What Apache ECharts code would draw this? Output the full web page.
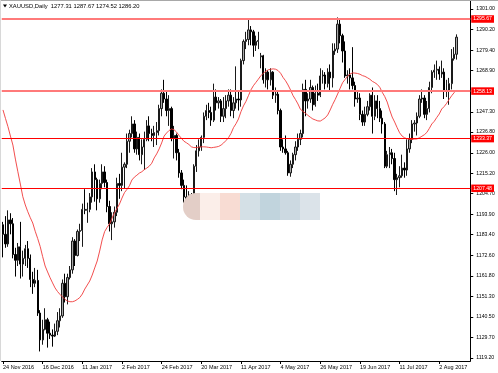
<!DOCTYPE html>
<html><head><meta charset="utf-8">
<script src="https://cdn.jsdelivr.net/npm/echarts@6/dist/echarts.min.js"></script>
<style>html,body{margin:0;padding:0;background:#fff}#c{width:498px;height:373px}</style>
</head><body><div id="c"></div><script>
const dates = ['24 Nov 2016','25 Nov 2016','28 Nov 2016','29 Nov 2016','30 Nov 2016','1 Dec 2016','2 Dec 2016','5 Dec 2016','6 Dec 2016','7 Dec 2016','8 Dec 2016','9 Dec 2016','12 Dec 2016','13 Dec 2016','14 Dec 2016','15 Dec 2016','16 Dec 2016','19 Dec 2016','20 Dec 2016','21 Dec 2016','22 Dec 2016','23 Dec 2016','27 Dec 2016','28 Dec 2016','29 Dec 2016','30 Dec 2016','3 Jan 2017','4 Jan 2017','5 Jan 2017','6 Jan 2017','9 Jan 2017','10 Jan 2017','11 Jan 2017','12 Jan 2017','13 Jan 2017','16 Jan 2017','17 Jan 2017','18 Jan 2017','19 Jan 2017','20 Jan 2017','23 Jan 2017','24 Jan 2017','25 Jan 2017','26 Jan 2017','27 Jan 2017','30 Jan 2017','31 Jan 2017','1 Feb 2017','2 Feb 2017','3 Feb 2017','6 Feb 2017','7 Feb 2017','8 Feb 2017','9 Feb 2017','10 Feb 2017','13 Feb 2017','14 Feb 2017','15 Feb 2017','16 Feb 2017','17 Feb 2017','20 Feb 2017','21 Feb 2017','22 Feb 2017','23 Feb 2017','24 Feb 2017','27 Feb 2017','28 Feb 2017','1 Mar 2017','2 Mar 2017','3 Mar 2017','6 Mar 2017','7 Mar 2017','8 Mar 2017','9 Mar 2017','10 Mar 2017','13 Mar 2017','14 Mar 2017','15 Mar 2017','16 Mar 2017','17 Mar 2017','20 Mar 2017','21 Mar 2017','22 Mar 2017','23 Mar 2017','24 Mar 2017','27 Mar 2017','28 Mar 2017','29 Mar 2017','30 Mar 2017','31 Mar 2017','3 Apr 2017','4 Apr 2017','5 Apr 2017','6 Apr 2017','7 Apr 2017','10 Apr 2017','11 Apr 2017','12 Apr 2017','13 Apr 2017','17 Apr 2017','18 Apr 2017','19 Apr 2017','20 Apr 2017','21 Apr 2017','24 Apr 2017','25 Apr 2017','26 Apr 2017','27 Apr 2017','28 Apr 2017','1 May 2017','2 May 2017','3 May 2017','4 May 2017','5 May 2017','8 May 2017','9 May 2017','10 May 2017','11 May 2017','12 May 2017','15 May 2017','16 May 2017','17 May 2017','18 May 2017','19 May 2017','22 May 2017','23 May 2017','24 May 2017','25 May 2017','26 May 2017','29 May 2017','30 May 2017','31 May 2017','1 Jun 2017','2 Jun 2017','5 Jun 2017','6 Jun 2017','7 Jun 2017','8 Jun 2017','9 Jun 2017','12 Jun 2017','13 Jun 2017','14 Jun 2017','15 Jun 2017','16 Jun 2017','19 Jun 2017','20 Jun 2017','21 Jun 2017','22 Jun 2017','23 Jun 2017','26 Jun 2017','27 Jun 2017','28 Jun 2017','29 Jun 2017','30 Jun 2017','3 Jul 2017','4 Jul 2017','5 Jul 2017','6 Jul 2017','7 Jul 2017','10 Jul 2017','11 Jul 2017','12 Jul 2017','13 Jul 2017','14 Jul 2017','17 Jul 2017','18 Jul 2017','19 Jul 2017','20 Jul 2017','21 Jul 2017','24 Jul 2017','25 Jul 2017','26 Jul 2017','27 Jul 2017','28 Jul 2017','31 Jul 2017','1 Aug 2017','2 Aug 2017','3 Aug 2017','4 Aug 2017','7 Aug 2017','8 Aug 2017','9 Aug 2017','10 Aug 2017','11 Aug 2017','14 Aug 2017','15 Aug 2017','16 Aug 2017','17 Aug 2017','18 Aug 2017'];

const opens = [1188.5,1183.5,1178.5,1191.0,1189.0,1173.0,1170.0,1177.0,1168.0,1171.0,1176.0,1171.0,1160.0,1158.0,1159.5,1142.5,1128.5,1134.0,1139.0,1132.0,1131.0,1130.5,1133.0,1138.5,1141.0,1158.0,1151.0,1161.0,1165.0,1180.0,1172.5,1185.0,1185.5,1196.5,1196.0,1196.5,1203.0,1216.0,1212.0,1202.0,1210.0,1216.0,1210.5,1198.0,1189.0,1190.0,1195.0,1210.0,1209.0,1218.5,1220.0,1232.0,1236.0,1241.0,1228.0,1234.0,1225.0,1229.0,1233.0,1240.0,1236.0,1235.0,1236.5,1237.5,1249.0,1257.0,1254.0,1248.0,1249.0,1233.5,1235.0,1226.0,1215.5,1209.0,1203.0,1201.0,1204.0,1199.0,1219.0,1227.0,1229.0,1234.0,1245.0,1248.0,1247.0,1243.0,1255.0,1252.0,1253.0,1245.0,1249.0,1253.0,1256.0,1248.0,1252.0,1254.0,1253.5,1274.0,1284.0,1285.0,1290.0,1289.0,1282.0,1284.0,1276.0,1276.5,1264.0,1268.0,1264.0,1268.0,1256.0,1256.5,1248.0,1229.0,1228.0,1226.0,1215.5,1220.0,1225.0,1229.0,1233.0,1236.0,1259.0,1253.0,1254.0,1260.0,1251.0,1257.0,1256.0,1266.0,1266.5,1262.0,1268.0,1265.0,1279.0,1280.0,1293.0,1287.0,1279.0,1266.0,1266.5,1265.0,1261.0,1254.0,1254.5,1246.0,1242.0,1246.0,1250.0,1256.0,1245.0,1253.0,1249.0,1244.0,1241.0,1219.0,1225.0,1226.0,1223.0,1212.0,1213.0,1214.0,1218.0,1217.0,1228.0,1233.0,1241.0,1241.5,1245.0,1254.0,1254.5,1246.0,1249.0,1260.0,1268.0,1269.0,1269.5,1267.0,1268.0,1258.0,1258.5,1262.0,1275.0,1277.31];
const highs = [1190.0,1193.0,1196.0,1194.5,1192.0,1176.5,1179.0,1190.0,1175.0,1178.0,1180.0,1173.0,1164.0,1166.0,1165.0,1144.0,1139.0,1145.0,1140.0,1138.0,1134.0,1137.0,1143.0,1145.0,1160.0,1163.0,1163.0,1167.0,1182.0,1181.0,1186.0,1189.0,1199.5,1207.0,1200.0,1205.0,1218.0,1220.0,1213.0,1212.0,1220.0,1219.0,1212.0,1201.0,1195.0,1198.0,1213.0,1215.0,1226.0,1221.0,1236.0,1238.0,1245.0,1243.0,1237.0,1236.0,1233.0,1237.0,1243.0,1245.0,1238.5,1240.0,1242.0,1251.0,1259.0,1264.0,1258.0,1256.0,1250.0,1240.0,1236.0,1228.0,1217.0,1212.0,1209.0,1206.0,1205.0,1220.0,1230.0,1233.0,1235.0,1247.0,1251.0,1252.0,1250.0,1262.0,1259.0,1255.0,1254.0,1255.0,1256.0,1259.0,1259.0,1255.0,1271.0,1258.0,1275.0,1285.0,1289.0,1295.5,1292.0,1290.0,1287.0,1289.0,1278.0,1277.0,1270.0,1269.0,1270.0,1268.5,1260.0,1258.0,1249.0,1233.0,1235.0,1227.0,1222.0,1226.0,1232.0,1236.0,1238.0,1262.0,1264.0,1257.0,1264.0,1261.0,1261.0,1262.0,1270.0,1269.0,1268.0,1270.0,1272.0,1283.0,1283.0,1296.5,1296.0,1288.0,1284.0,1269.0,1270.0,1281.0,1263.0,1258.0,1257.0,1248.0,1250.0,1253.0,1257.0,1260.0,1256.0,1256.0,1253.0,1248.0,1242.0,1227.0,1229.0,1228.0,1226.0,1215.0,1219.0,1225.0,1221.0,1233.0,1236.0,1243.0,1243.0,1247.0,1256.0,1259.0,1256.0,1253.0,1263.0,1269.0,1272.0,1274.0,1271.0,1274.0,1270.0,1264.0,1265.0,1280.0,1281.0,1287.67];
const lows = [1171.5,1176.5,1177.0,1183.5,1171.0,1161.5,1167.0,1160.5,1161.5,1167.0,1166.0,1156.0,1152.5,1156.0,1141.0,1122.5,1126.0,1133.5,1124.5,1129.0,1125.0,1130.0,1131.0,1135.0,1140.0,1148.0,1147.0,1160.0,1163.0,1167.0,1172.0,1180.0,1177.0,1194.0,1189.5,1195.0,1200.0,1200.5,1196.0,1200.0,1207.0,1208.0,1195.0,1185.0,1180.5,1187.0,1193.0,1202.0,1206.0,1207.5,1218.0,1226.0,1234.0,1226.0,1225.0,1222.0,1220.0,1217.0,1232.0,1232.0,1232.0,1229.0,1230.0,1235.0,1245.0,1252.0,1245.0,1240.0,1232.0,1223.0,1222.0,1213.0,1207.0,1200.0,1195.0,1199.0,1196.0,1197.0,1216.0,1224.0,1227.0,1231.0,1243.0,1244.0,1240.0,1242.0,1248.0,1249.0,1242.0,1242.0,1244.0,1250.0,1245.0,1244.0,1249.0,1248.0,1250.0,1272.0,1280.0,1282.0,1282.0,1276.0,1279.0,1280.0,1270.0,1262.0,1260.0,1259.0,1261.0,1254.0,1252.0,1246.0,1227.0,1226.0,1225.0,1214.0,1213.5,1218.0,1222.0,1227.0,1230.0,1234.0,1245.0,1249.0,1252.0,1248.0,1250.0,1253.0,1255.0,1262.0,1259.0,1260.0,1258.0,1260.0,1277.0,1278.0,1283.0,1273.0,1265.0,1262.0,1259.0,1259.0,1250.0,1252.0,1243.0,1240.0,1240.0,1245.0,1248.0,1236.0,1243.0,1244.0,1242.0,1236.0,1218.0,1218.0,1218.0,1220.0,1206.0,1204.0,1208.0,1213.0,1213.0,1214.0,1226.0,1231.0,1237.0,1235.0,1244.0,1252.0,1244.0,1243.0,1247.0,1257.0,1265.0,1264.0,1264.0,1265.0,1254.0,1255.0,1251.0,1259.0,1274.0,1274.52];
const closes = [1183.5,1178.5,1191.0,1189.0,1173.0,1170.0,1177.0,1168.0,1171.0,1176.0,1171.0,1160.0,1158.0,1159.5,1142.5,1128.5,1134.0,1139.0,1132.0,1131.0,1130.5,1133.0,1138.5,1141.0,1158.0,1151.0,1161.0,1165.0,1180.0,1172.5,1185.0,1185.5,1196.5,1196.0,1196.5,1203.0,1216.0,1212.0,1202.0,1210.0,1216.0,1210.5,1198.0,1189.0,1190.0,1195.0,1210.0,1209.0,1218.5,1220.0,1232.0,1236.0,1241.0,1228.0,1234.0,1225.0,1229.0,1233.0,1240.0,1236.0,1235.0,1236.5,1237.5,1249.0,1257.0,1254.0,1248.0,1249.0,1233.5,1235.0,1226.0,1215.5,1209.0,1203.0,1201.0,1204.0,1199.0,1219.0,1227.0,1229.0,1234.0,1245.0,1248.0,1247.0,1243.0,1255.0,1252.0,1253.0,1245.0,1249.0,1253.0,1256.0,1248.0,1252.0,1254.0,1253.5,1274.0,1284.0,1285.0,1290.0,1289.0,1282.0,1284.0,1284.5,1276.5,1264.0,1268.0,1264.0,1268.0,1256.0,1256.5,1248.0,1229.0,1228.0,1226.0,1215.5,1220.0,1225.0,1229.0,1233.0,1236.0,1259.0,1253.0,1254.0,1260.0,1251.0,1257.0,1256.0,1266.0,1266.5,1262.0,1268.0,1265.0,1279.0,1280.0,1293.0,1287.0,1279.0,1266.0,1266.5,1265.0,1261.0,1254.0,1254.5,1246.0,1242.0,1246.0,1250.0,1256.0,1245.0,1253.0,1249.0,1244.0,1241.0,1219.0,1225.0,1226.0,1223.0,1212.0,1213.0,1214.0,1218.0,1217.0,1228.0,1233.0,1241.0,1241.5,1245.0,1254.0,1254.5,1246.0,1249.0,1260.0,1268.0,1269.0,1269.5,1267.0,1268.0,1258.0,1258.5,1262.0,1275.0,1277.3,1286.20];
const ma20 = [1248.3,1243.9,1239.6,1234.7,1230.0,1222.7,1216.1,1209.7,1203.1,1198.8,1195.3,1192.2,1189.4,1185.1,1181.3,1177.2,1171.9,1167.0,1163.9,1160.9,1158.2,1155.6,1153.7,1152.2,1150.9,1149.6,1148.8,1148.4,1148.4,1148.8,1149.6,1150.6,1152.4,1155.0,1157.1,1159.2,1162.3,1166.0,1169.6,1174.8,1180.6,1184.9,1187.1,1188.9,1192.0,1194.8,1197.0,1199.3,1202.4,1205.2,1206.9,1208.8,1211.8,1213.3,1214.3,1215.4,1216.1,1217.2,1218.0,1219.0,1220.5,1223.3,1225.4,1228.0,1231.1,1234.7,1236.3,1237.6,1238.4,1238.0,1236.8,1235.0,1233.5,1232.0,1231.2,1230.3,1229.1,1228.7,1228.7,1228.9,1229.1,1229.1,1229.0,1228.8,1228.6,1228.8,1229.0,1229.3,1230.0,1231.1,1232.4,1233.9,1236.1,1239.1,1241.1,1243.6,1247.4,1250.4,1252.7,1255.7,1258.7,1260.9,1262.6,1264.3,1266.1,1267.4,1268.4,1269.2,1269.5,1269.7,1269.5,1268.8,1267.4,1265.2,1263.5,1261.3,1258.7,1255.8,1253.7,1251.4,1248.6,1247.6,1246.6,1245.5,1244.5,1243.6,1243.1,1242.6,1242.5,1243.3,1244.2,1245.7,1248.3,1251.2,1253.7,1256.6,1259.6,1262.5,1264.2,1265.8,1267.0,1267.6,1267.5,1267.3,1266.9,1266.2,1265.8,1265.1,1264.3,1263.2,1262.5,1261.6,1260.1,1257.5,1255.3,1252.4,1248.3,1244.6,1242.0,1239.1,1236.4,1234.7,1233.8,1233.3,1233.0,1233.0,1233.1,1233.2,1233.8,1234.6,1235.4,1236.6,1238.7,1241.0,1242.4,1244.4,1246.2,1248.8,1250.1,1251.8,1253.8,1255.7,1257.3,1258.7];

const xTickLabels = ['24 Nov 2016','16 Dec 2016','11 Jan 2017','2 Feb 2017','24 Feb 2017','20 Mar 2017','11 Apr 2017','4 May 2017','26 May 2017','19 Jun 2017','11 Jul 2017','2 Aug 2017'];
const yTickValues = [1301.00,1290.20,1279.40,1268.90,1247.30,1236.80,1226.00,1215.20,1204.70,1193.90,1183.40,1172.60,1161.80,1151.30,1140.50,1129.70,1119.20];
const levels = [1295.67,1258.13,1233.37,1207.48];
const levelColors = ['#ff7a7a','#ff7a7a','#ff0000','#ff0000'];
const levelWidths = [2,2,1,1];
const lastPrice = 1286.20;
const titleText = 'XAUUSD,Daily  1277.31 1287.67 1274.52 1286.20';

const FONT = 'Liberation Sans';
const candleData = dates.map((d, i) => i < opens.length ? [opens[i], closes[i], lows[i], highs[i]] : '-');
const maData = dates.map((d, i) => i < ma20.length ? ma20[i] : '-');
const showX = (idx, val) => xTickLabels.indexOf(val) >= 0;

const levelLabel = (bg) => ({show: true, position: 'end', distance: 1, color: '#fff', backgroundColor: bg, padding: [1.5, 2, 1, 2], fontSize: 5.2, fontFamily: FONT});

const levelSeries = levels.map((v, k) => ({
  type: 'line', data: [], silent: true, z: 4,
  markLine: {
    symbol: ['none', 'none'], silent: true, animation: false,
    lineStyle: {color: levelColors[k], width: levelWidths[k], type: 'solid'},
    label: Object.assign(levelLabel('#ff0000'), {formatter: v.toFixed(2)}),
    data: [{yAxis: v}]
  }
}));
levelSeries.push({
  type: 'line', data: [], silent: true, z: 4,
  markLine: {
    symbol: ['none', 'none'], silent: true, animation: false,
    lineStyle: {opacity: 0},
    label: Object.assign(levelLabel('#000'), {formatter: lastPrice.toFixed(2), offset: [0, -2]}),
    data: [{yAxis: lastPrice}]
  }
});

const chart = echarts.init(document.getElementById('c'), null, {renderer: 'canvas'});
chart.setOption({
  animation: false,
  backgroundColor: '#fff',
  grid: {left: -0.75, right: 26, top: 1, bottom: 12, containLabel: false},
  xAxis: {
    type: 'category', data: dates, boundaryGap: true,
    axisLine: {show: true, lineStyle: {color: '#000', width: 1}},
    axisTick: {show: true, interval: showX, alignWithLabel: true, length: 3, lineStyle: {color: '#000'}},
    axisLabel: {interval: showX, align: 'left', color: '#000', fontSize: 5.5, fontFamily: FONT, margin: 3, hideOverlap: false},
    splitLine: {show: false}
  },
  yAxis: {
    type: 'value', position: 'right', min: 1117.52, max: 1305.05, scale: true,
    axisLine: {show: true, lineStyle: {color: '#000', width: 1}},
    axisTick: {show: true, customValues: yTickValues, length: 3, lineStyle: {color: '#000'}},
    axisLabel: {customValues: yTickValues, formatter: v => v.toFixed(2), color: '#000', fontSize: 5.2, fontFamily: FONT, margin: 6},
    splitLine: {show: false}
  },
  series: [
    {
      type: 'candlestick', data: candleData, barWidth: 1.8,
      itemStyle: {color: '#a8a8a8', color0: '#000', borderColor: '#1a1a1a', borderColor0: '#000', borderWidth: 1}
    },
    {
      type: 'line', data: maData, symbol: 'none', smooth: false,
      lineStyle: {color: '#f03a3a', width: 0.9}, z: 3
    }
  ].concat(levelSeries),
  graphic: [
    {type: 'rect', shape: {x: 0, y: 0, width: 498, height: 1}, style: {fill: '#a8a8a8'}, z: 100},
    {type: 'rect', shape: {x: 0, y: 0, width: 1, height: 361}, style: {fill: '#d8d8d8'}, z: 100},
    {type: 'polygon', shape: {points: [[3, 4.5], [7, 4.5], [5, 7.5]]}, style: {fill: '#000'}, z: 100},
    {type: 'text', left: 9, top: 3, style: {text: titleText, font: '5.8px ' + FONT, fill: '#000'}, z: 100},
    {type: 'rect', shape: {x: 183, y: 193, width: 20, height: 27, r: [13, 0, 0, 13]}, style: {fill: '#e3cec7'}, z: 100},
    {type: 'rect', shape: {x: 200, y: 193, width: 20, height: 27}, style: {fill: '#fbeee9'}, z: 100},
    {type: 'rect', shape: {x: 220, y: 193, width: 20, height: 27}, style: {fill: '#f8dcd3'}, z: 100},
    {type: 'rect', shape: {x: 240, y: 193, width: 20, height: 27}, style: {fill: '#d4e0e6'}, z: 100},
    {type: 'rect', shape: {x: 260, y: 193, width: 20, height: 27}, style: {fill: '#c1d4dd'}, z: 100},
    {type: 'rect', shape: {x: 280, y: 193, width: 20, height: 27}, style: {fill: '#ccd9e1'}, z: 100},
    {type: 'rect', shape: {x: 300, y: 193, width: 20, height: 27}, style: {fill: '#dbe3e9'}, z: 100}
  ]
});
</script></body></html>
